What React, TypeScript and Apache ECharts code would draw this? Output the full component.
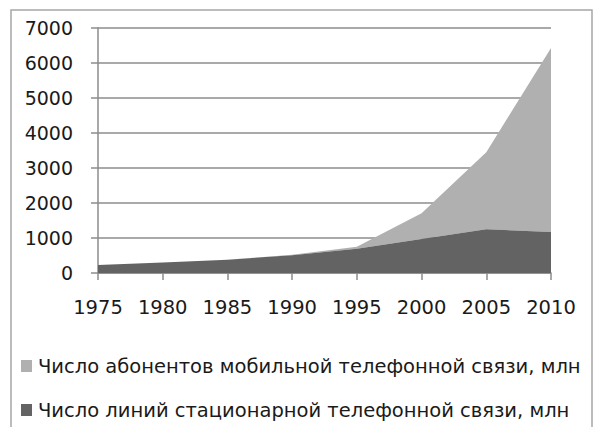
import React, { useEffect, useRef } from "react";
import * as echarts from "echarts";

const years = ["1975", "1980", "1985", "1990", "1995", "2000", "2005", "2010"];
const fixedLines = [230, 300, 380, 510, 690, 970, 1250, 1170];
const mobileSubs = [0, 0, 2, 11, 60, 740, 2200, 5260];
const yTicks = [0, 1000, 2000, 3000, 4000, 5000, 6000, 7000];
const mobileName = "Число абонентов мобильной телефонной связи, млн";
const fixedName = "Число линий стационарной телефонной связи, млн";

const FONT = "DejaVu Sans";

export default function App() {
  const ref = useRef<HTMLDivElement>(null);
  useEffect(() => {
    if (!ref.current) return;
    const chart = echarts.init(ref.current, undefined, { renderer: "svg" });
    chart.setOption({
      animation: false,
      backgroundColor: "#ffffff",
      textStyle: { fontFamily: FONT },
      graphic: [
        {
          type: "rect",
          shape: { x: 11, y: 10, width: 581, height: 430 },
          style: { fill: "none", stroke: "#a6a6a6", lineWidth: 1.5 },
          silent: true,
        },
      ],
      grid: { left: 98, right: 42, top: 28, bottom: 154, containLabel: false },
      legend: {
        orient: "vertical",
        left: 21,
        top: 356,
        padding: 0,
        itemWidth: 11,
        itemHeight: 12,
        itemGap: 24,
        icon: "rect",
        data: [mobileName, fixedName],
        textStyle: {
          fontFamily: FONT,
          fontSize: 19.5,
          lineHeight: 20,
          color: "#1a1a1a",
          padding: [0, 0, 0, 1],
        },
      },
      xAxis: {
        type: "category",
        data: years,
        boundaryGap: false,
        axisLine: { lineStyle: { color: "#8c8c8c", width: 1.5 } },
        axisTick: { show: true, length: 7, lineStyle: { color: "#8c8c8c", width: 1.5 } },
        axisLabel: { fontFamily: FONT, fontSize: 19.5, color: "#1a1a1a", margin: 24 },
        splitLine: { show: false },
      },
      yAxis: {
        type: "value",
        min: 0,
        max: 7000,
        interval: 1000,
        axisLine: { show: true, lineStyle: { color: "#8c8c8c", width: 1.5 } },
        axisTick: { show: true, length: 7, lineStyle: { color: "#8c8c8c", width: 1.5 } },
        axisLabel: {
          fontFamily: FONT,
          fontSize: 19,
          color: "#1a1a1a",
          margin: 25,
          formatter: (v: number) => (yTicks.includes(v) ? String(v) : ""),
        },
        splitLine: { show: true, lineStyle: { color: "#8c8c8c", width: 1.5 } },
      },
      series: [
        {
          name: fixedName,
          type: "line",
          stack: "total",
          data: fixedLines,
          symbol: "none",
          lineStyle: { width: 0 },
          areaStyle: { color: "#636363", opacity: 1 },
          itemStyle: { color: "#636363" },
          z: 3,
        },
        {
          name: mobileName,
          type: "line",
          stack: "total",
          data: mobileSubs,
          symbol: "none",
          lineStyle: { width: 0 },
          areaStyle: { color: "#b0b0b0", opacity: 1 },
          itemStyle: { color: "#b0b0b0" },
          z: 2,
        },
      ],
    });
    return () => chart.dispose();
  }, []);
  return (
    <div
      ref={ref}
      style={{ position: "fixed", left: 0, top: 0, width: 593, height: 427 }}
    />
  );
}
